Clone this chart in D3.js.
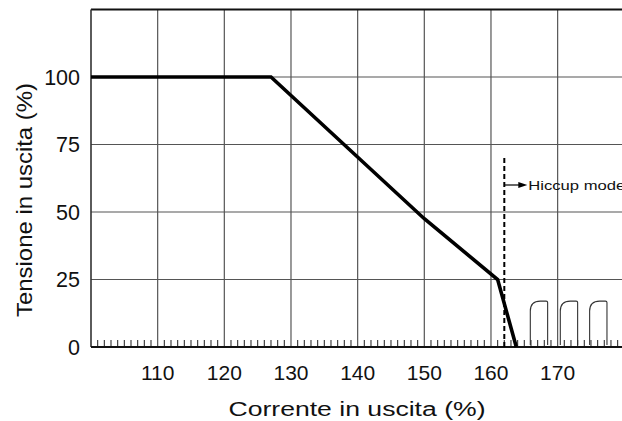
<!DOCTYPE html>
<html>
<head>
<meta charset="utf-8">
<script src="https://cdn.jsdelivr.net/npm/d3@7"></script>
<style>
	html, body { margin: 0; padding: 0; background: #fff; }
	text { font-family: "Liberation Sans", Arial, Helvetica, sans-serif; fill: #111; }
</style>
</head>
<body>
<div id="chart"></div>
<script>
// corrente (%) / tensione (%) della curva di protezione
let curveCurrent = [100, 127, 150, 161, 163.8]
let curveVoltage = [100, 100, 47.5, 25, 0]

let xTicks = [110, 120, 130, 140, 150, 160, 170]
let xGrid = [110, 120, 130, 140, 150, 160, 170, 180]
let yTicks = [0, 25, 50, 75, 100]
let yGrid = [25, 50, 75, 100]

// hiccup
let hiccupLimit = 162
let hiccupTop = 70
let hiccupArrowAt = 60
let hiccupLabel = "Hiccup mode"
let pulseStart = [165.9, 170.4, 174.8]
let pulseWidth = 2.6
let pulseHeight = 17

let xTitle = "Corrente in uscita (%)"
let yTitle = "Tensione in uscita (%)"

let dimensions = {width: 622, height: 421}

let svg
let xScale = d3.scaleLinear().domain([100, 180]).range([91, 624.3])
let yScale = d3.scaleLinear().domain([0, 125]).range([347, 9.5])

function initView() {
	svg = d3.select("#chart")
		.append("svg")
		.attr("width", dimensions.width)
		.attr("height", dimensions.height)
}

function makeGrid() {
	svg.append("g")
		.selectAll("line.vg")
		.data(xGrid)
		.enter()
			.append("line")
			.attr("x1", d => xScale(d))
			.attr("x2", d => xScale(d))
			.attr("y1", yScale(125))
			.attr("y2", yScale(0))
			.attr("stroke", "#555")
			.attr("stroke-width", 1.2)

	svg.append("g")
		.selectAll("line.hg")
		.data(yGrid)
		.enter()
			.append("line")
			.attr("x1", xScale(100))
			.attr("x2", xScale(180))
			.attr("y1", d => yScale(d))
			.attr("y2", d => yScale(d))
			.attr("stroke", "#555")
			.attr("stroke-width", 1.2)

	// piccole tacche ogni 1%
	let minor = d3.range(101, 180).filter(d => d % 10 !== 0)
	svg.append("g")
		.selectAll("line")
		.data(minor)
		.enter()
			.append("line")
			.attr("x1", d => xScale(d))
			.attr("x2", d => xScale(d))
			.attr("y1", yScale(0))
			.attr("y2", yScale(0) - 7)
			.attr("stroke", "#333")
			.attr("stroke-width", 1.1)

	// cornice
	svg.append("line")
		.attr("x1", xScale(100)).attr("x2", xScale(180))
		.attr("y1", yScale(125)).attr("y2", yScale(125))
		.attr("stroke", "#111").attr("stroke-width", 2)
	svg.append("line")
		.attr("x1", xScale(100)).attr("x2", xScale(100))
		.attr("y1", yScale(125)).attr("y2", yScale(0))
		.attr("stroke", "#333").attr("stroke-width", 1.6)
	svg.append("line")
		.attr("x1", xScale(100)).attr("x2", xScale(180))
		.attr("y1", yScale(0)).attr("y2", yScale(0))
		.attr("stroke", "#111").attr("stroke-width", 2)
}

function makeAxes() {
	svg.append("g")
		.selectAll("text")
		.data(yTicks)
		.enter()
			.append("text")
			.attr("x", 80)
			.attr("y", d => yScale(d))
			.attr("dy", "0.36em")
			.attr("text-anchor", "end")
			.style("font-size", "21.5px")
			.text(d => d)

	svg.append("g")
		.selectAll("text")
		.data(xTicks)
		.enter()
			.append("text")
			.attr("x", d => xScale(d))
			.attr("y", 380)
			.attr("text-anchor", "middle")
			.style("font-size", "21px")
			.text(d => d)

	svg.append("text")
		.attr("x", 357)
		.attr("y", 416)
		.attr("text-anchor", "middle")
		.attr("textLength", 257)
		.attr("lengthAdjust", "spacingAndGlyphs")
		.style("font-size", "20px")
		.text(xTitle)

	svg.append("text")
		.attr("transform", "translate(32,200) rotate(-90)")
		.attr("text-anchor", "middle")
		.attr("textLength", 234)
		.attr("lengthAdjust", "spacingAndGlyphs")
		.style("font-size", "22px")
		.text(yTitle)
}

function makeCurve() {
	let pts = curveCurrent.map((c, i) => [c, curveVoltage[i]])
	let line = d3.line()
		.x(d => xScale(d[0]))
		.y(d => yScale(d[1]))

	svg.append("path")
		.datum(pts)
		.attr("d", line)
		.attr("fill", "none")
		.attr("stroke", "#000")
		.attr("stroke-width", 3.6)
		.attr("stroke-linejoin", "miter")
}

function makeHiccup() {
	let hx = xScale(hiccupLimit)
	svg.append("line")
		.attr("x1", hx).attr("x2", hx)
		.attr("y1", yScale(0)).attr("y2", yScale(hiccupTop))
		.attr("stroke", "#000")
		.attr("stroke-width", 2)
		.attr("stroke-dasharray", "5,3")

	let ay = yScale(hiccupArrowAt)
	svg.append("line")
		.attr("x1", hx).attr("x2", hx + 16)
		.attr("y1", ay).attr("y2", ay)
		.attr("stroke", "#000").attr("stroke-width", 1.2)
	svg.append("path")
		.attr("d", `M${hx + 23},${ay} L${hx + 14},${ay - 3} L${hx + 14},${ay + 3} Z`)
		.attr("fill", "#000")

	svg.append("text")
		.attr("x", hx + 24)
		.attr("y", ay + 4.5)
		.attr("textLength", 97)
		.attr("lengthAdjust", "spacingAndGlyphs")
		.style("font-size", "13px")
		.text(hiccupLabel)

	svg.append("g")
		.selectAll("path")
		.data(pulseStart)
		.enter()
			.append("path")
			.attr("d", s => {
				let x0 = xScale(s), x1 = xScale(s + pulseWidth)
				let y0 = yScale(0), y1 = yScale(pulseHeight)
				let r = 10
				return `M${x0},${y0 - 2} L${x0},${y1 + r} Q${x0},${y1} ${x0 + r},${y1} L${x1 - 1.5},${y1} Q${x1},${y1} ${x1},${y1 + 1.5} L${x1},${y0 - 2}`
			})
			.attr("fill", "none")
			.attr("stroke", "#333")
			.attr("stroke-width", 1.1)
}

initView()
makeGrid()
makeCurve()
makeHiccup()
makeAxes()
</script>
</body>
</html>
